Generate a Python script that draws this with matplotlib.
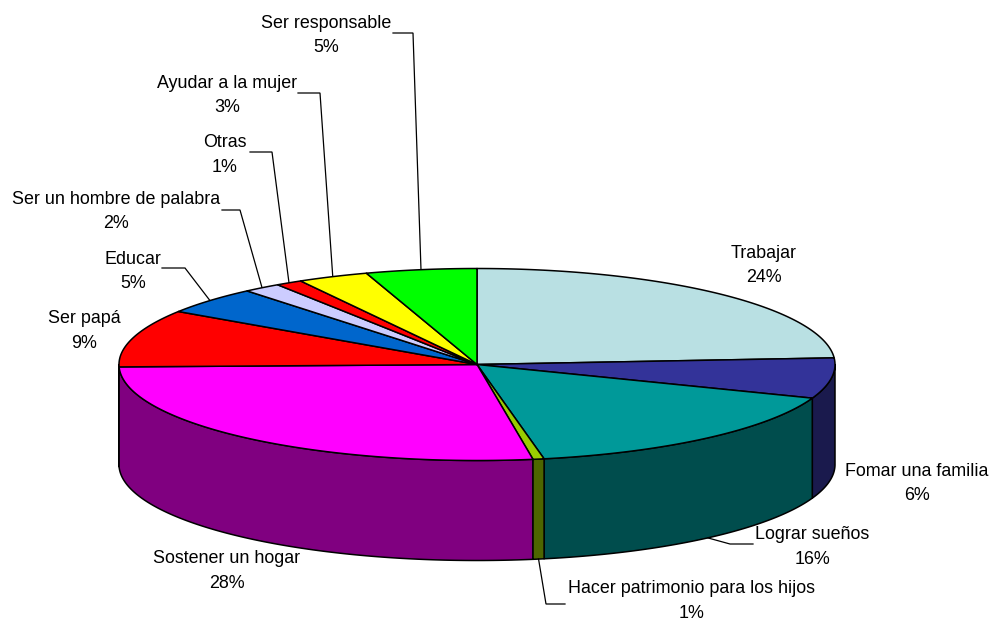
import numpy as np
import matplotlib
matplotlib.use("Agg")
import matplotlib.pyplot as plt

categories = ["Trabajar", "Fomar una familia", "Lograr sueños", "Hacer patrimonio para los hijos",
              "Sostener un hogar", "Ser papá", "Educar", "Ser un hombre de palabra", "Otras",
              "Ayudar a la mujer", "Ser responsable"]
values = [23.9, 6.8, 16.3, 0.5, 27.1, 9.7, 4.6, 1.7, 1.2, 3.2, 5.0]
percent_labels = ["24%", "6%", "16%", "1%", "28%", "9%", "5%", "2%", "1%", "3%", "5%"]

top_colors = ["#B9E0E3", "#333399", "#009999", "#99CC00", "#FF00FF", "#FF0000",
              "#0066CC", "#CCCCFF", "#FF0000", "#FFFF00", "#00FF00"]
side_colors = ["#5C7072", "#1A1A4D", "#004D4D", "#4D6600", "#800080", "#800000",
               "#003366", "#666680", "#800000", "#808000", "#008000"]

# label anchors (x centre, y baseline of first line), pixel layout
label_pos = [(764, 258), (917, 476), (812, 539), (692, 593), (227, 563), (84, 323),
             (133, 264), (116, 204), (225, 147), (227, 88), (326, 28)]
# leader elbows: (text-side x, y, elbow x); None = no leader
leaders = [None, None, (753, 544, 730), (565, 604, 546), None, None,
           (162, 268, 185), (222, 210, 240), (250, 152, 272), (298, 93, 320), (393, 33, 413)]

CX, CY, RX, RY, DEPTH = 477.0, 364.5, 358.0, 96.0, 100.0
FONT = "Liberation Sans"
FONT_SIZE = 12.9
LINE_GAP = 24.5

fig = plt.figure(figsize=(9.92, 6.22), dpi=100)
ax = fig.add_axes([0, 0, 1, 1])
ax.set_xlim(0, 992)
ax.set_ylim(622, 0)
ax.axis("off")


def ell(t):
    return CX + RX * np.sin(t), CY - RY * np.cos(t)


fractions = np.array(values) / sum(values) * 2 * np.pi
ends = np.cumsum(fractions)
starts = ends - fractions

# side faces, back to front
lo, hi = np.pi / 2, 3 * np.pi / 2
order = sorted(range(len(values)), key=lambda i: -abs((starts[i] + ends[i]) / 2 - np.pi))
for i in order:
    a, b = max(starts[i], lo), min(ends[i], hi)
    if b <= a:
        continue
    t = np.linspace(a, b, 200)
    x, y = ell(t)
    ax.fill(np.r_[x, x[::-1]], np.r_[y, y[::-1] + DEPTH], facecolor=side_colors[i],
            edgecolor="black", linewidth=1.1, joinstyle="round", zorder=2)

# top faces
for i in range(len(values)):
    t = np.linspace(starts[i], ends[i], 200)
    x, y = ell(t)
    ax.fill(np.r_[CX, x], np.r_[CY, y], facecolor=top_colors[i],
            edgecolor="black", linewidth=1.1, joinstyle="round", zorder=3)

# labels and leaders
for i, (name, pct) in enumerate(zip(categories, percent_labels)):
    lx, ly = label_pos[i]
    ax.text(lx, ly, name, ha="center", va="baseline", family=FONT, fontsize=FONT_SIZE, color="black", zorder=5)
    ax.text(lx, ly + LINE_GAP, pct, ha="center", va="baseline", family=FONT, fontsize=FONT_SIZE, color="black", zorder=5)
    if leaders[i] is not None:
        sx, sy, ex = leaders[i]
        mid = (starts[i] + ends[i]) / 2
        px, py = ell(mid)
        if np.pi / 2 < mid < 3 * np.pi / 2:
            py += DEPTH
        ax.plot([sx, ex, px], [sy, sy, py], color="black", linewidth=0.9, zorder=1 if py < CY else 4,
                solid_joinstyle="miter")

fig.savefig("out.png", dpi=100, facecolor="white")
